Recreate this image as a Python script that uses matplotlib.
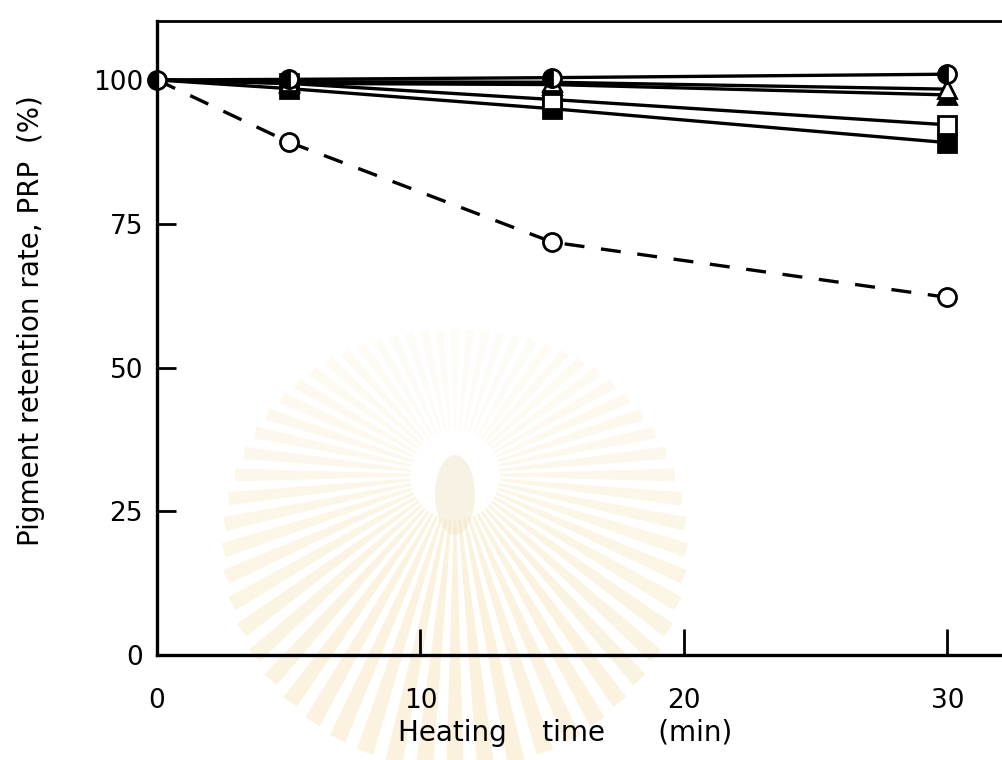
import numpy as np
import matplotlib.pyplot as plt
from matplotlib.patches import Wedge, Ellipse

# heating time (min) and pigment retention rate (%) per treatment
time_min = [0, 5, 15, 30]
prp_control = [100, 89.2, 71.8, 62.2]
prp_circle = [100, 100.1, 100.4, 101.0]
prp_tri_open = [100, 99.7, 99.6, 98.4]
prp_tri_filled = [100, 99.4, 99.2, 97.4]
prp_sq_open = [100, 99.4, 96.6, 92.2]
prp_sq_filled = [100, 98.5, 95.0, 89.1]

x_ticks = [0, 10, 20, 30]
y_ticks = [0, 25, 50, 75, 100]

fig = plt.figure(figsize=(10.02, 7.6), dpi=100)

# faint sunburst stamp behind the plot (y runs downward here)
bg = fig.add_axes([0, 0, 1, 1], zorder=-1)
bg.set_xlim(0, 1002)
bg.set_ylim(760, 0)
bg.axis('off')
for a in np.arange(0, 360, 6):
    s = np.sin(np.radians(a))
    r = 220 + 75 * s
    bg.add_patch(Wedge((455, 475), r, a - 1.7, a + 1.7, width=r - 45,
                       facecolor='#f3d99a', edgecolor='none',
                       alpha=0.2 + 0.12 * s))
bg.add_patch(Ellipse((455, 495), 40, 80, facecolor='#efe0c0',
                     edgecolor='none', alpha=0.4))

ax = fig.add_axes([0.1567, 0.138, 0.8433, 0.834])
ax.patch.set_alpha(0)

mk = dict(color='black', lw=2.4, markersize=13, markeredgewidth=2.0,
          markeredgecolor='black', clip_on=False)
later = [1, 2, 3]
ax.plot(time_min, prp_control, ls=(0, (6, 5)), marker='o',
        markerfacecolor='white', markevery=later, **mk)
ax.plot(time_min, prp_sq_filled, marker='s', markerfacecolor='black',
        markevery=later, **mk)
ax.plot(time_min, prp_sq_open, marker='s', markerfacecolor='white',
        markevery=later, **mk)
ax.plot(time_min, prp_tri_filled, marker='^', markerfacecolor='black',
        markevery=later, **mk)
ax.plot(time_min, prp_tri_open, marker='^', markerfacecolor='white',
        markevery=later, **mk)
ax.plot(time_min, prp_circle, marker='o', fillstyle='left',
        markerfacecolor='black', markerfacecoloralt='white', **mk)

ax.set_xlim(0, 32.07)
ax.set_ylim(0, 110.2)
ax.set_xticks(x_ticks)
ax.set_yticks(y_ticks)
ax.tick_params(axis='x', direction='in', length=19, width=2.0, pad=24,
               labelsize=19)
ax.tick_params(axis='y', direction='in', length=14, width=2.0, pad=10,
               labelsize=19)

ax.spines['right'].set_visible(False)
for side in ['left', 'bottom']:
    ax.spines[side].set_linewidth(2.4)
ax.spines['top'].set_linewidth(2.0)

ax.set_xlabel('Heating    time      (min)', fontsize=20)
ax.set_ylabel('Pigment retention rate, PRP  (%)', fontsize=20)
ax.xaxis.set_label_coords(0.483, -0.10)
ax.yaxis.set_label_coords(-0.132, 0.528)

fig.savefig('out.png', dpi=100)
